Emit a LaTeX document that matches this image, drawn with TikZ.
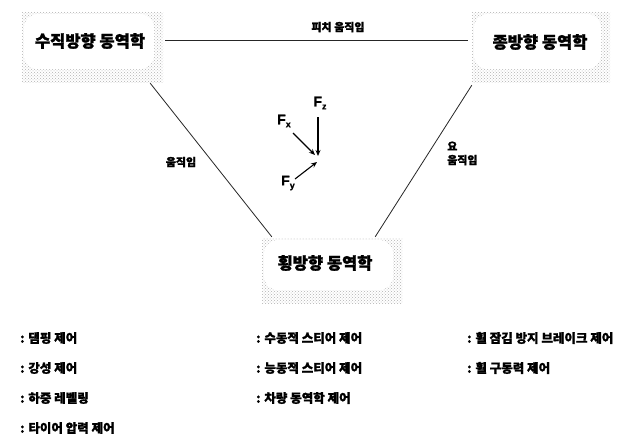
\documentclass[tikz,border=0pt]{standalone}
\usepackage{fontspec}
\setmainfont{Noto Sans CJK KR}[BoldFeatures={FakeBold=1.5}]
\newfontfamily\latf{Liberation Sans}[BoldFeatures={FakeBold=1}]
\usetikzlibrary{patterns,arrows.meta,calc}
\begin{document}
\begin{tikzpicture}[x=1pt,y=-1pt,
  boxbg/.style={rectangle, inner sep=0pt, pattern=crosshatch dots, pattern color=gray!60,
    path picture={\fill[white, rounded corners=14pt]
      ([xshift=2pt,yshift=-2pt]path picture bounding box.north west) rectangle
      ([xshift=-9pt,yshift=13pt]path picture bounding box.south east);}},
  boxtext/.style={font=\bfseries\fontsize{16.5}{18}\selectfont, inner sep=0pt},
  edgetext/.style={font=\bfseries\fontsize{11}{13}\selectfont, inner sep=0pt},
  listtext/.style={font=\bfseries\fontsize{12.5}{14}\selectfont, inner sep=0pt, anchor=west},
  ftext/.style={font=\latf\bfseries\fontsize{14}{16}\selectfont, inner sep=1pt},
  conn/.style={draw=black!85, line width=0.8pt},
  farrow/.style={draw=black, line width=1.1pt, -{Stealth[length=6pt,width=5pt]}}
]
\useasboundingbox (0,0) rectangle (627,437);
\fill[white] (0,0) rectangle (627,437);

% boxes
\node[boxbg, minimum width=141pt, minimum height=70pt] (b1) at (92.5,47) {};
\node[boxbg, minimum width=138pt, minimum height=70pt] (b2) at (541,47) {};
\node[boxbg, minimum width=140pt, minimum height=65pt] (b3) at (332,270.5) {};

\node[boxtext] (t1) at (90,41) {수직방향 동역학};
\node[boxtext] (t2) at (540,42) {종방향 동역학};
\node[boxtext] (t3) at (325,263) {횡방향 동역학};

% connectors
\draw[conn] ($(b1.east)+(2,-7)$) -- ($(b2.west)+(-4,-7)$);
\draw[conn] ($(b1.south east)+(-13,1)$) -- ($(b3.north west)+(10,-1)$);
\draw[conn] ($(b2.south west)+(0,3)$) -- ($(b3.north east)+(-27,-1)$);

% connector labels
\node[edgetext] (l1) at (338,27) {피치 움직임};
\node[edgetext] (l2) at (181,162) {움직임};
\node[edgetext, anchor=west] (l3a) at (447,146) {요};
\node[edgetext, anchor=west] (l3b) at (447,160) {움직임};

% forces
\node[ftext] (fz) at (320,103) {F\raisebox{-3pt}{\fontsize{9}{9}\selectfont z}};
\node[ftext] (fx) at (284,121) {F\raisebox{-3pt}{\fontsize{9}{9}\selectfont x}};
\node[ftext] (fy) at (288,183) {F\raisebox{-3pt}{\fontsize{9}{9}\selectfont y}};
\coordinate (tz) at (318,156);
\coordinate (tx) at (315,155);
\coordinate (ty) at (317,162);
\draw[farrow] (318,117) -- (tz);
\draw[farrow] (293,133) -- (tx);
\draw[farrow] (295,179) -- (ty);

% list
\node[listtext] (a1) at (20,338) {: 댐핑 제어};
\node[listtext] (a2) at (20,368) {: 강성 제어};
\node[listtext] (a3) at (20,398) {: 하중 레벨링};
\node[listtext] (a4) at (20,428) {: 타이어 압력 제어};
\node[listtext] (c1) at (256,338) {: 수동적 스티어 제어};
\node[listtext] (c2) at (256,368) {: 능동적 스티어 제어};
\node[listtext] (c3) at (256,398) {: 차량 동역학 제어};
\node[listtext] (d1) at (467,338) {: 휠 잠김 방지 브레이크 제어};
\node[listtext] (d2) at (467,368) {: 휠 구동력 제어};
\end{tikzpicture}
\end{document}
